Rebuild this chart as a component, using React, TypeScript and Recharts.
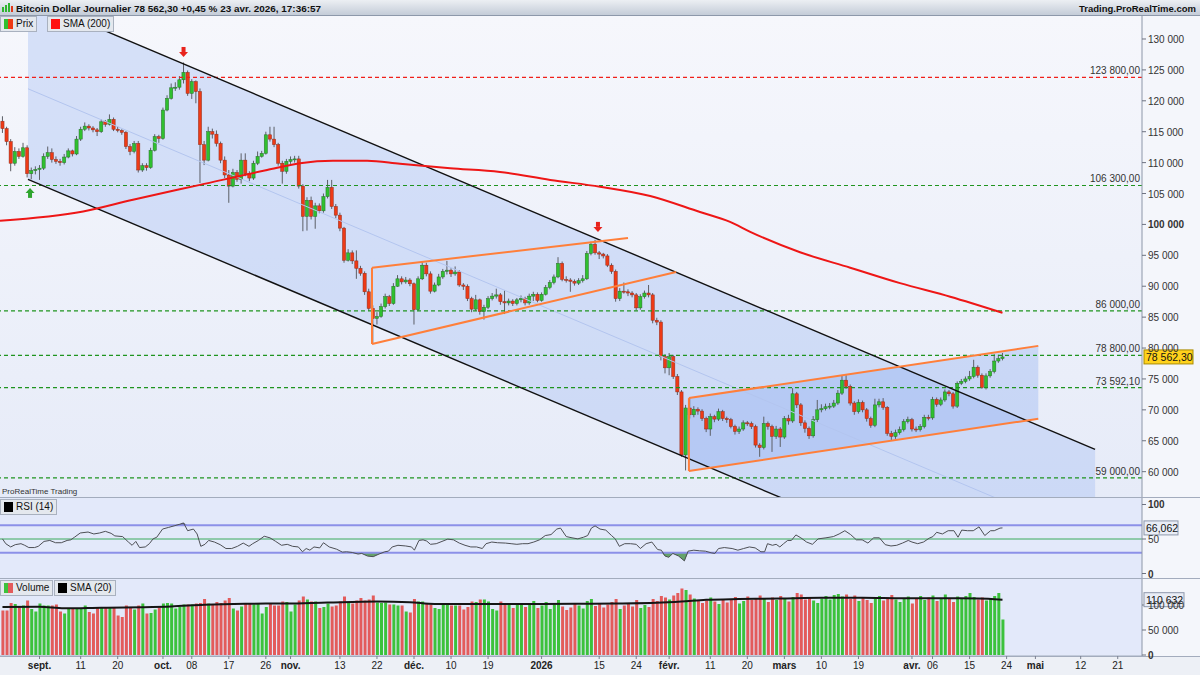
import React from 'react'
import {
  ComposedChart,
  Bar,
  Line,
  Area,
  XAxis,
  YAxis,
  ReferenceLine,
  ReferenceDot,
  Cell,
} from 'recharts'

const FONT = '"Liberation Sans", Arial, Helvetica, sans-serif'

// day 0 = 1 sept. 2025, one candle per day (crypto trades every day)
const FIRST_DAY = -9
const FIRST_OPEN = 116.7

// prices in thousands of dollars
const closes = [
  115.5, 113.4, 109.9, 111.8, 111.0, 112.4, 108.2, 108.7, 108.9, 109.1,
  111.0, 111.6, 110.5, 110.2, 110.0, 110.9, 111.9, 111.4, 113.8, 115.4,
  115.9, 115.6, 115.3, 115.0, 116.6, 116.2, 117.0, 115.4, 115.2, 114.9,
  112.6, 111.8, 113.1, 108.8, 109.5, 109.2, 112.0, 114.2, 113.9, 118.5,
  120.4, 122.1, 122.2, 123.4, 124.6, 121.2, 123.1, 121.5, 112.9, 110.4,
  115.0, 114.6, 113.1, 110.4, 108.0, 106.2, 108.4, 107.3, 110.4, 108.2,
  107.5, 109.9, 111.0, 111.5, 114.5, 113.8, 112.9, 109.9, 108.6, 110.2,
  110.5, 110.6, 106.2, 101.3, 103.9, 101.3, 103.0, 102.2, 104.5, 106.0,
  102.9, 101.5, 99.4, 94.2, 95.4, 94.1, 92.9, 92.1, 89.1, 86.4,
  84.8, 85.1, 86.7, 88.3, 87.2, 90.0, 91.2, 90.7, 91.0, 90.4,
  86.2, 91.2, 93.4, 92.0, 89.2, 90.2, 91.5, 92.4, 92.6, 92.0,
  92.3, 90.2, 90.0, 88.0, 86.3, 87.8, 85.9, 86.6, 88.0, 88.4,
  88.6, 87.5, 87.3, 87.6, 87.2, 87.8, 88.0, 87.3, 88.4, 88.7,
  87.7, 88.7, 89.8, 90.6, 91.5, 93.7, 91.1, 91.0, 90.8, 90.5,
  90.9, 91.2, 95.3, 96.8, 95.4, 95.2, 94.9, 93.4, 92.4, 88.0,
  89.2, 89.1, 88.9, 88.6, 86.5, 88.3, 88.9, 88.6, 84.5, 84.2,
  78.6, 76.8, 78.6, 75.4, 72.9, 62.7, 70.3, 69.2, 70.1, 69.8,
  68.6, 66.9, 68.9, 68.5, 69.7, 68.6, 68.4, 67.3, 66.5, 66.9,
  67.9, 67.8, 67.3, 64.3, 63.9, 67.8, 67.3, 65.7, 66.9, 65.6,
  68.6, 68.2, 72.6, 70.8, 67.9, 67.0, 65.8, 68.4, 70.0, 70.2,
  70.5, 70.6, 71.1, 72.7, 74.8, 73.8, 71.1, 69.7, 71.2, 70.0,
  68.6, 67.5, 70.8, 71.3, 70.4, 66.2, 65.7, 66.3, 66.8, 68.1,
  68.4, 66.9, 66.8, 67.3, 68.8, 68.7, 71.7, 70.9, 71.6, 72.9,
  72.6, 70.6, 74.3, 74.6, 75.0, 75.4, 76.9, 75.6, 73.6, 75.5,
  76.2, 77.9, 78.3, 78.5623,
]

const highs = [
  117.5, 115.8, 113.8, 112.5, 112.3, 113.2, 112.8, 109.2, 109.4, 109.6,
  111.5, 112.6, 112.3, 111.0, 110.6, 111.4, 112.3, 112.1, 114.3, 115.8,
  116.5, 116.2, 115.9, 115.6, 117.0, 116.9, 117.8, 117.3, 115.8, 115.4,
  115.1, 113.0, 113.5, 113.5, 109.9, 109.9, 112.4, 114.6, 114.5, 118.9,
  120.9, 122.8, 123.0, 124.0, 126.2, 124.9, 123.5, 123.3, 122.0, 113.5,
  115.8, 115.5, 115.2, 113.4, 111.0, 108.8, 109.0, 108.8, 111.5, 111.5,
  108.6, 110.3, 111.8, 111.9, 115.0, 115.8, 115.8, 113.2, 110.3, 110.6,
  111.0, 111.1, 111.1, 106.5, 104.4, 104.5, 103.5, 103.4, 105.0, 107.2,
  107.2, 103.3, 101.9, 99.6, 96.0, 95.8, 95.8, 93.3, 92.4, 89.6,
  86.9, 85.8, 87.2, 88.8, 88.6, 90.5, 91.8, 91.6, 91.5, 91.3,
  90.6, 91.6, 94.0, 93.8, 92.4, 90.6, 92.0, 92.8, 94.1, 92.9,
  93.2, 92.6, 90.5, 90.3, 88.3, 88.6, 88.0, 87.0, 88.4, 88.9,
  89.6, 88.9, 89.3, 88.0, 87.9, 88.1, 88.5, 88.3, 88.8, 89.1,
  89.0, 89.0, 90.2, 91.0, 91.9, 94.7, 94.0, 91.6, 91.3, 91.1,
  91.3, 91.8, 95.7, 97.2, 97.5, 95.7, 95.4, 95.2, 93.7, 92.7,
  89.7, 90.6, 89.5, 89.2, 88.9, 88.7, 89.3, 90.2, 88.9, 84.9,
  84.5, 79.0, 79.2, 78.9, 75.8, 73.2, 70.8, 71.9, 70.6, 70.4,
  70.1, 68.9, 69.4, 69.2, 70.2, 70.0, 68.9, 68.7, 67.6, 67.3,
  68.3, 68.2, 68.1, 67.6, 64.6, 68.9, 68.1, 67.6, 67.4, 67.2,
  69.0, 69.2, 73.5, 72.9, 71.1, 68.3, 67.3, 69.0, 71.6, 70.9,
  71.0, 71.1, 71.6, 73.2, 75.6, 75.6, 74.1, 71.4, 71.7, 71.5,
  70.3, 68.9, 71.8, 71.8, 71.9, 70.6, 66.6, 66.8, 67.3, 68.5,
  68.9, 68.7, 67.3, 67.7, 69.2, 69.2, 72.1, 72.0, 72.0, 73.3,
  73.2, 72.9, 74.6, 75.0, 75.4, 76.3, 78.1, 77.2, 75.9, 75.9,
  76.6, 79.0, 78.9, 79.2,
]

const lows = [
  114.8, 112.8, 108.6, 109.5, 110.6, 110.8, 107.6, 107.3, 108.1, 107.2,
  108.8, 110.6, 110.0, 109.8, 109.5, 109.7, 110.7, 111.0, 111.2, 113.5,
  115.1, 115.2, 114.9, 114.3, 114.8, 115.8, 116.0, 115.1, 114.9, 114.5,
  112.2, 111.2, 111.5, 108.4, 108.5, 108.7, 109.0, 111.8, 113.2, 113.7,
  118.3, 120.2, 121.6, 121.8, 122.8, 120.8, 120.3, 119.6, 106.7, 109.6,
  110.2, 113.9, 112.6, 109.9, 107.5, 103.5, 106.0, 106.9, 106.6, 107.8,
  107.0, 107.2, 109.6, 110.8, 111.3, 113.4, 112.5, 109.5, 106.6, 108.2,
  109.8, 110.0, 105.8, 98.9, 99.0, 100.8, 99.3, 101.8, 101.9, 104.2,
  102.5, 101.0, 98.9, 93.8, 94.0, 93.6, 91.2, 91.7, 88.6, 86.0,
  80.8, 83.8, 84.9, 86.4, 86.8, 87.0, 89.9, 90.3, 90.4, 90.0,
  83.8, 86.0, 91.0, 91.6, 88.8, 89.0, 90.0, 91.2, 91.9, 91.5,
  91.7, 89.9, 89.4, 87.6, 85.8, 86.0, 85.4, 84.6, 86.3, 87.7,
  88.0, 87.0, 85.5, 86.9, 86.8, 86.9, 87.4, 86.9, 87.0, 87.6,
  87.4, 87.5, 88.5, 89.5, 90.3, 91.3, 90.8, 90.6, 89.1, 90.1,
  90.2, 90.6, 91.0, 95.0, 95.1, 94.4, 94.5, 93.1, 92.0, 87.5,
  87.6, 88.8, 88.4, 88.2, 86.1, 86.2, 88.0, 88.2, 84.0, 83.7,
  78.0, 75.9, 75.6, 75.0, 72.4, 62.4, 60.2, 68.6, 68.8, 69.2,
  68.2, 66.4, 65.8, 68.0, 68.2, 68.2, 67.9, 67.0, 66.0, 66.1,
  66.6, 67.4, 66.9, 63.9, 62.4, 63.6, 66.8, 63.2, 65.3, 64.0,
  65.3, 67.6, 67.9, 70.3, 67.4, 66.3, 65.3, 65.5, 68.0, 69.6,
  69.9, 70.1, 70.3, 70.8, 72.4, 73.4, 70.7, 69.2, 69.4, 69.6,
  68.1, 67.1, 67.2, 70.4, 70.0, 65.8, 65.1, 65.3, 66.0, 66.5,
  67.8, 66.5, 66.4, 66.5, 67.0, 68.3, 68.4, 70.5, 70.6, 71.3,
  72.2, 70.2, 70.3, 74.0, 74.3, 74.7, 75.1, 75.2, 73.4, 73.3,
  75.2, 75.9, 77.6, 78.0,
]

// daily volume, thousands
const volumes = [
  89, 89, 104, 102, 96, 99, 109, 92, 87, 103,
  99, 99, 99, 101, 87, 83, 94, 94, 94, 94,
  99, 86, 83, 94, 94, 94, 96, 94, 79, 76,
  99, 96, 91, 99, 103, 83, 84, 91, 95, 103,
  104, 103, 93, 96, 101, 101, 101, 103, 104, 112,
  103, 101, 106, 104, 109, 114, 93, 89, 97, 104,
  104, 101, 104, 83, 96, 103, 99, 99, 107, 106,
  87, 101, 109, 117, 111, 107, 107, 94, 96, 103,
  97, 99, 107, 117, 105, 103, 109, 114, 109, 111,
  119, 105, 104, 105, 101, 101, 99, 99, 87, 85,
  112, 107, 107, 103, 101, 94, 92, 103, 104, 99,
  99, 99, 91, 96, 107, 106, 111, 111, 107, 92,
  89, 107, 104, 104, 94, 104,
  104, 96, 100, 108, 94, 99, 106, 92, 101, 110,
  97, 90, 95, 104, 99, 93, 108, 112, 98, 102,
  95, 101, 106, 112, 92, 99, 104, 97, 110, 94,
  100, 96, 112, 108, 118, 115, 111, 119, 124, 133,
  130, 121, 113, 110, 104, 109, 115, 107, 102, 111,
  105, 112, 116, 103, 108, 117, 110, 114, 119, 112,
  106, 115, 110, 118, 113, 107, 116, 124, 121, 111,
  116, 109, 104, 113, 118, 111, 120, 122, 117, 121,
  112, 119, 108, 116, 110, 104, 113, 118, 109, 115,
  120, 111, 106, 114, 117, 103, 112, 118, 110, 115,
  119, 108, 114, 121, 113, 106, 117, 112, 118, 124,
  116, 111, 115, 109, 113, 118, 124, 71,
]

// [day, value]
const sma200 = [
  [-9.6, 100.6], [10.6, 102.1], [22.7, 104.0], [39, 106.4], [55.3, 108.8],
  [63.3, 109.9], [71.3, 110.3], [79.6, 110.3], [87.6, 109.8], [99.8, 109.1],
  [111.9, 108.5], [124.1, 107.2], [136.2, 106.1], [148.4, 104.6], [160.5, 102.0],
  [167.8, 100.4], [172.7, 98.8], [184.8, 95.5], [197, 93.0], [209.1, 90.5],
  [221.3, 88.3], [234, 85.7],
]

const volSma20 = [
  [-9, 96], [0, 96.5], [6, 93.5], [15, 94.5], [25, 95.5], [32, 97], [40, 100.5],
  [50, 102.5], [60, 103], [70, 105], [82, 107], [90, 105.5], [96, 102], [110, 102],
  [120, 102], [130, 102.5], [140, 103], [150, 104.5], [156, 107], [162, 110.5],
  [170, 112], [180, 113], [190, 114.5], [200, 114.5], [210, 113.5], [220, 113.5],
  [228, 113], [234, 110.6],
]

const rsi14 = [
  [-9, 50.2], [-8.2, 43.2], [-7, 38.5], [-5.9, 41.8], [-4.5, 43.2], [-3.6, 40.9],
  [-2.6, 37.6], [-1.2, 37.6], [-0.3, 39.4], [1.1, 46.5], [2.5, 47.9], [3.9, 44.6],
  [5.3, 44.6], [6.7, 47.9], [7.6, 48.8], [8.5, 52.6], [9.9, 58.7], [11.8, 60.1],
  [13.2, 57.3], [14.6, 58.7], [16, 61.1], [17.4, 58.2], [18.3, 54.5], [20.2, 53.5],
  [21.6, 45.6], [22.5, 40.9], [23.4, 46.5], [24.3, 37.6], [25.7, 38.5], [26.7, 43.2],
  [27.6, 50.2], [28.5, 52.6], [29.9, 64.4], [31.3, 66.7], [32.7, 69.0], [34.1, 71.4],
  [35, 73.3], [36, 62.0], [37.4, 64.4], [38.3, 57.3], [39.2, 39.4], [40.2, 42.3],
  [41.1, 47.9], [42.5, 45.6], [43.9, 41.8], [45.3, 36.2], [46.7, 36.2], [48.1, 39.4],
  [49.5, 44.1], [50.9, 39.4], [51.8, 43.2], [53.2, 47.9], [54.6, 54.0], [56, 51.7],
  [57.4, 46.5], [58.8, 40.9], [60.2, 42.3], [61.5, 39.4], [62.9, 38.5], [63.9, 31.5],
  [64.8, 36.2], [65.7, 33.8], [66.7, 38.5], [68.1, 37.1], [69, 44.6], [70.4, 38.5],
  [72.2, 35.2], [73.6, 31.0], [74.6, 31.5], [76, 30.5], [77.4, 28.2], [78.3, 29.1],
  [79.7, 25.3], [81.1, 24.4], [82.5, 28.2], [83.9, 31.5], [84.8, 32.4], [85.7, 38.5],
  [87.1, 40.9], [89, 39.9], [90.4, 38.5], [91.1, 33.8], [92.2, 47.9], [93.2, 48.8],
  [94.1, 47.0], [95, 42.3], [96.4, 43.2], [97.8, 46.5], [99.2, 49.8], [100.6, 48.8],
  [102, 44.1], [103.4, 40.9], [104.8, 38.5], [106.2, 38.5], [107.6, 36.2], [108.5, 43.2],
  [109.9, 45.6], [111.3, 44.6], [113.2, 44.1], [114.6, 43.2], [116, 42.3], [117.4, 43.2],
  [118.7, 43.2], [120.1, 45.6], [121.5, 48.8], [122.9, 55.0], [124.3, 56.4], [125.7, 64.4],
  [126.6, 65.8], [128, 53.5], [129.4, 51.7], [130.8, 50.2], [132.2, 52.6], [133.2, 55.0],
  [134.1, 65.8], [135, 69.0], [136.2, 64.4], [137.6, 62.9], [139, 55.0], [139.9, 50.2],
  [140.9, 39.4], [142.2, 43.2], [143.6, 43.2], [145, 42.3], [146, 36.2], [147.4, 43.2],
  [148.8, 45.6], [150.2, 34.7], [151.1, 33.8], [152, 25.3], [152.9, 23.5], [153.9, 29.1],
  [155.3, 25.3], [156.7, 18.3], [157.6, 32.4], [159, 33.8], [160.4, 32.9], [161.8, 32.4],
  [163.2, 30.0], [164.1, 29.1], [165, 36.2], [166.4, 37.6], [168.3, 36.2], [169.7, 33.8],
  [171.1, 36.2], [172.5, 38.5], [173.9, 37.1], [175.3, 31.5], [176.2, 31.5], [176.9, 43.2],
  [178.1, 40.9], [179, 42.3], [179.9, 38.5], [180.8, 43.2], [181.8, 47.9], [182.7, 47.9],
  [183.8, 55.9], [185, 51.7], [186.4, 45.6], [187.8, 42.3], [189.2, 50.2], [191.1, 51.7],
  [192.9, 53.5], [194.3, 57.3], [195.7, 62.0], [197.1, 56.4], [198.5, 48.8], [199.9, 48.8],
  [201.3, 44.1], [202.7, 51.7], [204.1, 51.7], [205.5, 41.8], [206.9, 39.9], [208.3, 40.9],
  [209.7, 44.1], [211.1, 47.9], [212, 45.6], [213.4, 43.2], [214.8, 45.6], [216.2, 51.2],
  [217.1, 53.5], [218, 59.7], [219.4, 57.3], [220.8, 62.0], [222.2, 62.0], [223.2, 52.6],
  [224.1, 62.9], [225.5, 62.0], [226.9, 62.0], [228.3, 67.6], [229.7, 55.0], [231.1, 62.0],
  [232, 62.0], [233.4, 65.8], [234, 66.062],
]

const priceTicks = [60, 65, 70, 75, 80, 85, 90, 95, 100, 105, 110, 115, 120, 125, 130]
const resistances = [123.8]
const supports = [106.3, 86, 78.8, 73.5921, 59]
const lastPrice = 78.5623
const lastRsi = 66.062
const lastVolSma = 110.632

const dateTickDays = [0, 10, 19, 30, 37, 46, 55, 61, 73, 82, 91, 100, 109, 122, 136, 145, 153, 163, 172, 181, 190, 199, 212, 217, 226, 235, 242, 253, 262]
const dateTickLabels = ['sept.', '11', '20', 'oct.', '08', '17', '26', 'nov.', '13', '22', 'déc.', '10', '19', '2026', '15', '24', 'févr.', '11', '20', 'mars', '10', '19', 'avr.', '06', '15', '24', 'mai', '12', '21']
const monthLabels = ['sept.', 'oct.', 'nov.', 'déc.', '2026', 'févr.', 'mars', 'avr.', 'mai']

// drawn trend lines, [day, price]
const downUpper = [[-2.8, 136.6], [256.5, 63.6]]
const downLower = [[-2.8, 107.3], [256.5, 34.3]]
const novUpper = [[80.8, 93.0], [143, 97.8]]
const novLower = [[80.8, 80.65], [154.7, 92.3]]
const febUpper = [[157.8, 71.9], [242.7, 80.35]]
const febLower = [[157.8, 60.1], [242.7, 68.55]]
const topMarks = [[35, 127.9], [135.7, 99.6]]
const bottomMarks = [[-2.3, 105.1]]

const XMIN = -9.6
const XMAX = 267.9

const candles = closes.map((c, i) => ({
  d: FIRST_DAY + i,
  o: i === 0 ? FIRST_OPEN : closes[i - 1],
  c,
  h: highs[i],
  l: lows[i],
  v: volumes[i],
}))

const smaData = sma200.map(([d, v]) => ({ d, v }))
const volSmaData = volSma20.map(([d, m]) => ({ d, m }))
const rsiData = rsi14.map(([d, r]) => ({
  d,
  r,
  lo: [Math.min(r, 30), 30],
  hi: [70, Math.max(r, 70)],
}))
const band = (up: number[][], low: number[][]) =>
  up.map((p, i) => ({ d: p[0], b: [low[i][1], p[1]] }))
const downBand = band(downUpper, downLower)
const febBand = band(febUpper, febLower)
const downMid = downUpper.map((p, i) => ({ d: p[0], v: (p[1] + downLower[i][1]) / 2 }))

const fmt = (v: number, dec: number) => {
  const [i, f] = v.toFixed(dec).split('.')
  const s = i.replace(/\B(?=(\d{3})+(?!\d))/g, ' ')
  return f ? `${s},${f}` : s
}

const seg = (l: number[][]) => l.map(([x, y]) => ({ x, y }))

function Candle(props: any) {
  const { x, y, width, height, payload } = props
  if (!payload) return null
  const { o, c, h, l } = payload
  const top = Math.min(y, y + height)
  const span = Math.abs(height)
  const cx = x + width / 2
  const py = (v: number) => top + ((h - v) / (h - l)) * span
  const bt = py(Math.max(o, c))
  const bb = py(Math.min(o, c))
  const up = c >= o
  return (
    <g>
      <line x1={cx} x2={cx} y1={top} y2={top + span} stroke="#5c5f66" strokeWidth={1} />
      <rect
        x={cx - 1.6}
        y={bt}
        width={3.2}
        height={Math.max(1, bb - bt)}
        fill={up ? '#2fc02f' : '#ee3a16'}
        stroke={up ? '#2a6e2a' : '#8e3020'}
        strokeWidth={0.5}
      />
    </g>
  )
}

function LevelLabel(props: any) {
  const vb = props.viewBox || {}
  return (
    <text x={vb.x + vb.width - 2} y={vb.y - 3} textAnchor="end" fontSize={10} fill="#333" fontFamily={FONT}>
      {props.text}
    </text>
  )
}

function ArrowDown(props: any) {
  const { cx, cy } = props
  return (
    <g fill="#e8231c">
      <rect x={cx - 2} y={cy - 5} width={4} height={5} />
      <polygon points={`${cx - 4.5},${cy} ${cx + 4.5},${cy} ${cx},${cy + 5}`} />
    </g>
  )
}

function ArrowUp(props: any) {
  const { cx, cy } = props
  return (
    <g fill="#2ea52e">
      <rect x={cx - 2} y={cy} width={4} height={5} />
      <polygon points={`${cx - 4.5},${cy} ${cx + 4.5},${cy} ${cx},${cy - 5}`} />
    </g>
  )
}

function Tag(props: any) {
  const { cx, cy, text, fill, stroke, w } = props
  return (
    <g>
      <rect x={cx + 2} y={cy - 7} width={w} height={14} fill={fill} stroke={stroke} strokeWidth={1} />
      <text x={cx + 4} y={cy + 4} fontSize={10.5} fill="#111" fontFamily={FONT}>
        {text}
      </text>
    </g>
  )
}

const axisTick = (label: (v: number) => string, bold: number[]) =>
  function Tick(p: any) {
    const v = p.payload.value
    return (
      <text x={p.x} y={p.y} dy={4} fontSize={10} fill="#333" fontWeight={bold.includes(v) ? 700 : 400} fontFamily={FONT}>
        {label(v)}
      </text>
    )
  }

function DateTick(p: any) {
  const i = dateTickDays.indexOf(p.payload.value)
  const label = dateTickLabels[i]
  return (
    <text
      x={p.x}
      y={p.y + 9}
      textAnchor="middle"
      fontSize={10}
      fontWeight={monthLabels.includes(label) ? 700 : 400}
      fill="#222"
      fontFamily={FONT}
    >
      {label}
    </text>
  )
}

const legendBox: React.CSSProperties = {
  position: 'absolute',
  height: 14,
  background: '#e4e8ee',
  border: '1px solid #a9b1bf',
  fontSize: 10,
  lineHeight: '14px',
  color: '#111',
  display: 'flex',
  alignItems: 'center',
  gap: 3,
  padding: '0 3px',
  boxSizing: 'content-box',
  whiteSpace: 'nowrap',
}

const sq = (bg: string) => (
  <span style={{ display: 'inline-block', width: 9, height: 10, background: bg }} />
)

export default function App() {
  const xAxis = <XAxis type="number" dataKey="d" domain={[XMIN, XMAX]} allowDataOverflow hide />
  return (
    <div
      style={{
        position: 'absolute',
        left: 0,
        top: 0,
        width: 1200,
        height: 675,
        overflow: 'hidden',
        fontFamily: FONT,
        background: '#f4f6fb',
      }}
    >
      <style>{'.recharts-surface { overflow: visible; }'}</style>
      {/* header */}
      <div
        style={{
          position: 'absolute',
          left: 0,
          top: 0,
          width: 1200,
          height: 15,
          background: 'linear-gradient(#eceff3, #c4ccd8)',
          borderBottom: '1px solid #8d98aa',
        }}
      >
        <svg width={1200} height={15} style={{ position: 'absolute', left: 0, top: 0 }}>
          <rect x={2} y={7} width={2} height={5} fill="#2fb52f" />
          <rect x={5} y={5} width={2} height={7} fill="#2fb52f" />
          <rect x={8} y={3} width={2} height={9} fill="#2fb52f" />
          <rect x={11} y={6} width={2} height={6} fill="#e03a1a" />
          <text x={16} y={11.5} fontSize={9.5} fontWeight={700} fill="#111" fontFamily={FONT} textLength={305} lengthAdjust="spacingAndGlyphs">
            Bitcoin Dollar Journalier 78 562,30 +0,45 % 23 avr. 2026, 17:36:57
          </text>
          <text x={1196} y={11.5} textAnchor="end" fontSize={9.5} fontWeight={700} fill="#111" fontFamily={FONT}>
            Trading.ProRealTime.com
          </text>
        </svg>
      </div>

      {/* panel backgrounds */}
      <div style={{ position: 'absolute', left: 0, top: 16, width: 1142, height: 481, background: 'linear-gradient(#f6f7fc, #e6ebf8)' }} />
      <div style={{ position: 'absolute', left: 0, top: 498, width: 1142, height: 80, background: '#e3e9fa' }} />
      <div style={{ position: 'absolute', left: 0, top: 579, width: 1142, height: 77, background: '#e3e9fa' }} />
      <div style={{ position: 'absolute', left: 0, top: 656, width: 1200, height: 19, background: '#edf0f6' }} />
      <div style={{ position: 'absolute', left: 0, top: 497, width: 1200, height: 1, background: '#a3acbd' }} />
      <div style={{ position: 'absolute', left: 0, top: 578, width: 1200, height: 1, background: '#a3acbd' }} />
      <div style={{ position: 'absolute', left: 0, top: 656, width: 1200, height: 1, background: '#a3acbd' }} />

      {/* price panel */}
      <div style={{ position: 'absolute', left: 0, top: 16 }}>
        <ComposedChart width={1200} height={481} data={candles} margin={{ top: 0, right: 0, bottom: 0, left: 0 }}>
          {xAxis}
          <YAxis
            orientation="right"
            width={58}
            domain={[55.9, 133.72]}
            allowDataOverflow
            ticks={priceTicks}
            interval={0}
            tickSize={4}
            tickMargin={2}
            tickLine={{ stroke: '#6d7280' }}
            axisLine={{ stroke: '#8c96a8' }}
            tick={axisTick((v) => fmt(v * 1000, 0), [100])}
          />
          <Area data={downBand} dataKey="b" type="linear" stroke="none" fill="#a9c1f2" fillOpacity={0.42} isAnimationActive={false} />
          <Area data={febBand} dataKey="b" type="linear" stroke="none" fill="#7ea3ee" fillOpacity={0.3} isAnimationActive={false} />
          <Line data={downMid} dataKey="v" type="linear" stroke="#b3c5ef" strokeWidth={1} dot={false} isAnimationActive={false} />
          {resistances.map((v) => (
            <ReferenceLine key={v} y={v} stroke="#f0201a" strokeDasharray="4 3" strokeWidth={1.2} label={<LevelLabel text={fmt(v * 1000, 2)} />} />
          ))}
          {supports.map((v) => (
            <ReferenceLine key={v} y={v} stroke="#1f941f" strokeDasharray="4 3" strokeWidth={1.2} label={<LevelLabel text={fmt(v * 1000, 2)} />} />
          ))}
          <ReferenceLine segment={seg(downUpper)} stroke="#111" strokeWidth={1.4} ifOverflow="hidden" />
          <ReferenceLine segment={seg(downLower)} stroke="#111" strokeWidth={1.4} ifOverflow="hidden" />
          {[novUpper, novLower, febUpper, febLower].map((l, i) => (
            <ReferenceLine key={i} segment={seg(l)} stroke="#ff7f3a" strokeWidth={2} ifOverflow="hidden" />
          ))}
          <ReferenceLine segment={[{ x: novLower[0][0], y: novLower[0][1] }, { x: novUpper[0][0], y: novUpper[0][1] }]} stroke="#ff7f3a" strokeWidth={2} />
          <ReferenceLine segment={[{ x: febLower[0][0], y: febLower[0][1] }, { x: febUpper[0][0], y: febUpper[0][1] }]} stroke="#ff7f3a" strokeWidth={2} />
          <Line data={smaData} dataKey="v" type="monotone" stroke="#ee1616" strokeWidth={2} dot={false} isAnimationActive={false} />
          <Bar dataKey={(e: any) => [e.l, e.h]} barSize={3} shape={Candle} isAnimationActive={false} />
          {topMarks.map(([x, y], i) => (
            <ReferenceDot key={'t' + i} x={x} y={y} r={0} shape={ArrowDown} ifOverflow="visible" />
          ))}
          {bottomMarks.map(([x, y], i) => (
            <ReferenceDot key={'b' + i} x={x} y={y} r={0} shape={ArrowUp} ifOverflow="visible" />
          ))}
          <ReferenceDot
            x={XMAX}
            y={lastPrice}
            r={0}
            ifOverflow="visible"
            shape={(p: any) => <Tag {...p} text={fmt(lastPrice * 1000, 2)} fill="#ffd21c" stroke="#a88a00" w={49} />}
          />
        </ComposedChart>
      </div>

      {/* RSI panel */}
      <div style={{ position: 'absolute', left: 0, top: 498 }}>
        <ComposedChart width={1200} height={80} data={rsiData} margin={{ top: 0, right: 0, bottom: 0, left: 0 }}>
          {xAxis}
          <YAxis
            orientation="right"
            width={58}
            domain={[-6.5, 109.4]}
            allowDataOverflow
            ticks={[0, 50, 100]}
            interval={0}
            tickSize={4}
            tickMargin={2}
            tickLine={{ stroke: '#6d7280' }}
            axisLine={{ stroke: '#8c96a8' }}
            tick={axisTick((v) => String(v), [0, 100])}
          />
          <ReferenceLine y={70} stroke="#8c90e8" strokeWidth={2} />
          <ReferenceLine y={30} stroke="#8c90e8" strokeWidth={2} />
          <ReferenceLine y={50} stroke="#3aaa5c" strokeWidth={1} />
          <Area dataKey="lo" type="linear" stroke="none" fill="#4f9650" fillOpacity={0.85} isAnimationActive={false} />
          <Area dataKey="hi" type="linear" stroke="none" fill="#2a2f50" fillOpacity={0.8} isAnimationActive={false} />
          <Line dataKey="r" type="linear" stroke="#4d4f55" strokeWidth={1} dot={false} isAnimationActive={false} />
          <ReferenceDot
            x={XMAX}
            y={lastRsi}
            r={0}
            ifOverflow="visible"
            shape={(p: any) => <Tag {...p} text={fmt(lastRsi, 3)} fill="#e9edf6" stroke="#8e98ac" w={34} />}
          />
        </ComposedChart>
      </div>

      {/* volume panel + date axis */}
      <div style={{ position: 'absolute', left: 0, top: 579 }}>
        <ComposedChart width={1200} height={96} data={candles} margin={{ top: 0, right: 0, bottom: 0, left: 0 }}>
          <XAxis
            type="number"
            dataKey="d"
            domain={[XMIN, XMAX]}
            allowDataOverflow
            ticks={dateTickDays}
            interval={0}
            height={19}
            tickSize={3}
            tickMargin={1}
            tickLine={{ stroke: '#7a8090' }}
            axisLine={{ stroke: '#a3acbd' }}
            tick={DateTick}
          />
          <YAxis
            orientation="right"
            width={58}
            domain={[-2, 152]}
            allowDataOverflow
            ticks={[0, 50, 100]}
            interval={0}
            tickSize={4}
            tickMargin={2}
            tickLine={{ stroke: '#6d7280' }}
            axisLine={{ stroke: '#8c96a8' }}
            tick={axisTick((v) => fmt(v * 1000, 0), [0])}
          />
          <Bar dataKey="v" barSize={3} isAnimationActive={false}>
            {candles.map((e, i) => (
              <Cell key={i} fill={e.c >= e.o ? '#3cc23c' : '#e35b5b'} />
            ))}
          </Bar>
          <Line data={volSmaData} dataKey="m" type="monotone" stroke="#151515" strokeWidth={2} dot={false} isAnimationActive={false} />
          <ReferenceDot
            x={XMAX}
            y={lastVolSma}
            r={0}
            ifOverflow="visible"
            shape={(p: any) => <Tag {...p} text={fmt(lastVolSma * 1000, 0)} fill="#e9edf6" stroke="#8e98ac" w={40} />}
          />
        </ComposedChart>
      </div>

      {/* legends */}
      <div style={{ ...legendBox, left: 0, top: 16 }}>
        <span style={{ display: 'inline-block', width: 9, height: 10, background: 'linear-gradient(90deg, #2fc02f 50%, #ee3a16 50%)' }} />
        Prix
      </div>
      <div style={{ ...legendBox, left: 47, top: 16 }}>
        {sq('#ff1010')}
        SMA (200)
      </div>
      <div style={{ position: 'absolute', left: 2, top: 487, fontSize: 8, color: '#333' }}>ProRealTime Trading</div>
      <div style={{ ...legendBox, left: 0, top: 499 }}>
        {sq('#000')}
        RSI (14)
      </div>
      <div style={{ ...legendBox, left: 0, top: 580 }}>
        <span style={{ display: 'inline-block', width: 9, height: 10, background: 'linear-gradient(90deg, #3cc23c 50%, #e35b5b 50%)' }} />
        Volume
      </div>
      <div style={{ ...legendBox, left: 54, top: 580 }}>
        {sq('#000')}
        SMA (20)
      </div>
    </div>
  )
}
